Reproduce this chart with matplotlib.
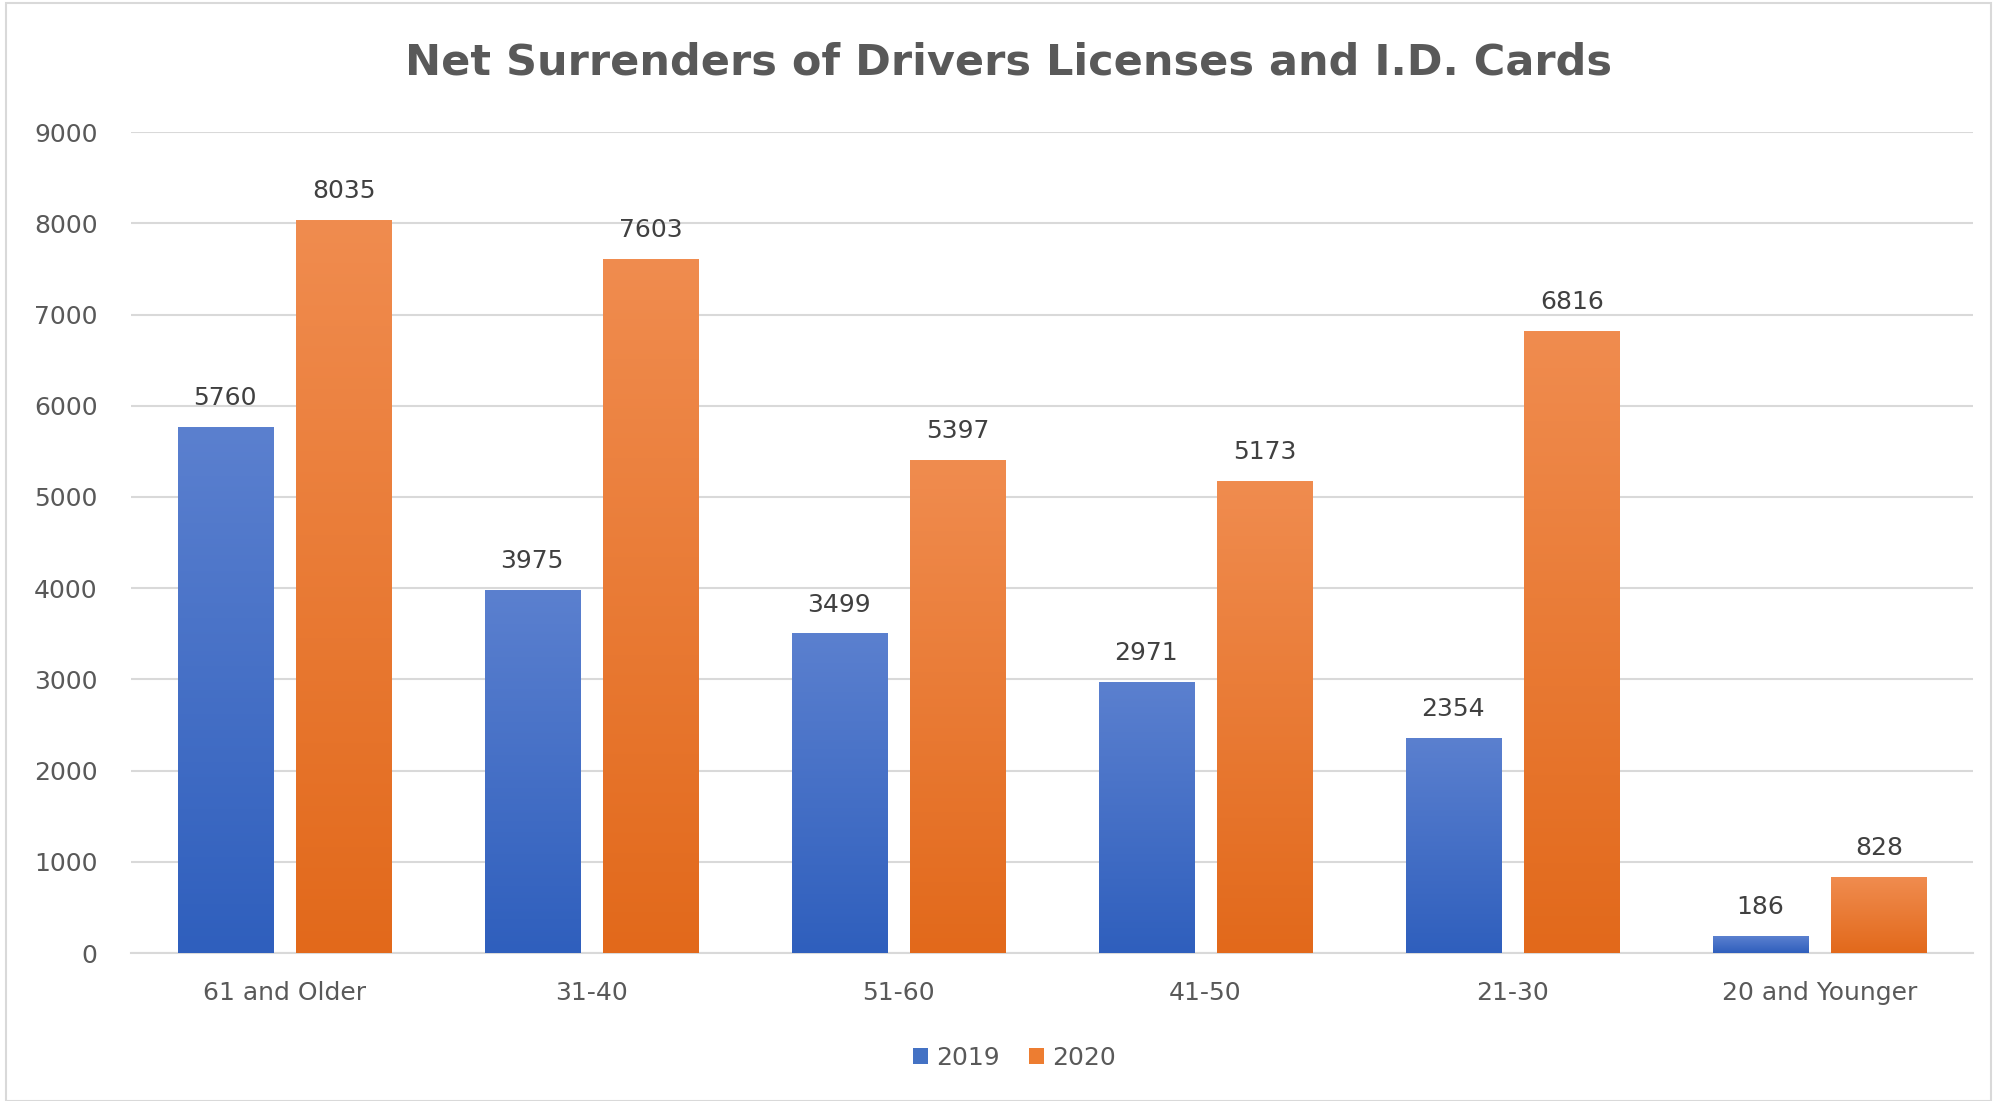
import numpy as np
import matplotlib.pyplot as plt
from matplotlib.colors import LinearSegmentedColormap
from matplotlib.patches import Rectangle

# datos del grafico
categorias = ['61 and Older', '31-40', '51-60', '41-50', '21-30', '20 and Younger']
valores_2019 = [5760, 3975, 3499, 2971, 2354, 186]
valores_2020 = [8035, 7603, 5397, 5173, 6816, 828]
series = ['2019', '2020']

plt.rcParams['font.family'] = ['DejaVu Sans']

fig = plt.figure(figsize=(19.97, 11.01), dpi=100)
ax = fig.add_axes([0.0656, 0.1344, 0.9224, 0.7456])

# borde exterior de la imagen
fig.patches.append(Rectangle((0.003, 0.0), 0.994, 0.997, transform=fig.transFigure,
                             fill=False, edgecolor='#d9d9d9', linewidth=1.5))

x = np.arange(len(categorias))
ancho = 0.31
desp = 0.193

# degradados (arriba claro, abajo oscuro)
cmap_azul = LinearSegmentedColormap.from_list('azul', ['#2f5fbd', '#5b80cf'])
cmap_naranja = LinearSegmentedColormap.from_list('naranja', ['#e2691b', '#f08c4f'])
grad = np.linspace(0, 1, 256).reshape(-1, 1)

barras_a = ax.bar(x - desp, valores_2019, ancho, color='#4472c4', label=series[0], zorder=2)
barras_b = ax.bar(x + desp, valores_2020, ancho, color='#ed7d31', label=series[1], zorder=2)

for barras, cm in [(barras_a, cmap_azul), (barras_b, cmap_naranja)]:
    for b in barras:
        x0 = b.get_x()
        h = b.get_height()
        ax.imshow(grad, extent=[x0, x0 + b.get_width(), 0, h], origin='lower',
                  aspect='auto', cmap=cm, zorder=3)
    for b in barras:
        ax.text(b.get_x() + b.get_width() / 2, b.get_height() + 190, f'{int(b.get_height())}',
                ha='center', va='bottom', fontsize=18, color='#404040')

ax.set_xlim(-0.5, len(categorias) - 0.5)
ax.set_ylim(0, 9000)
ax.set_yticks(range(0, 9001, 1000))
ax.set_xticks(x)
ax.set_xticklabels(categorias)
ax.tick_params(axis='both', length=0, labelsize=18, labelcolor='#595959')
ax.tick_params(axis='y', pad=24)
ax.tick_params(axis='x', pad=20)
ax.grid(axis='y', color='#d9d9d9', linewidth=1.5, zorder=0)
ax.set_axisbelow(True)
for s in ['top', 'right', 'left']:
    ax.spines[s].set_visible(False)
ax.spines['bottom'].set_color('#d9d9d9')
ax.spines['bottom'].set_linewidth(1.5)

fig.text(0.505, 0.943, 'Net Surrenders of Drivers Licenses and I.D. Cards',
         ha='center', va='center', fontsize=31, fontweight='bold', color='#595959')

fig.legend(handles=[barras_a, barras_b], labels=series, loc='center',
           bbox_to_anchor=(0.508, 0.039), ncol=2, frameon=False, fontsize=18,
           handlelength=0.6, handleheight=0.6, handletextpad=0.3, columnspacing=1.2,
           labelcolor='#595959')

fig.savefig('out.png', dpi=100)
